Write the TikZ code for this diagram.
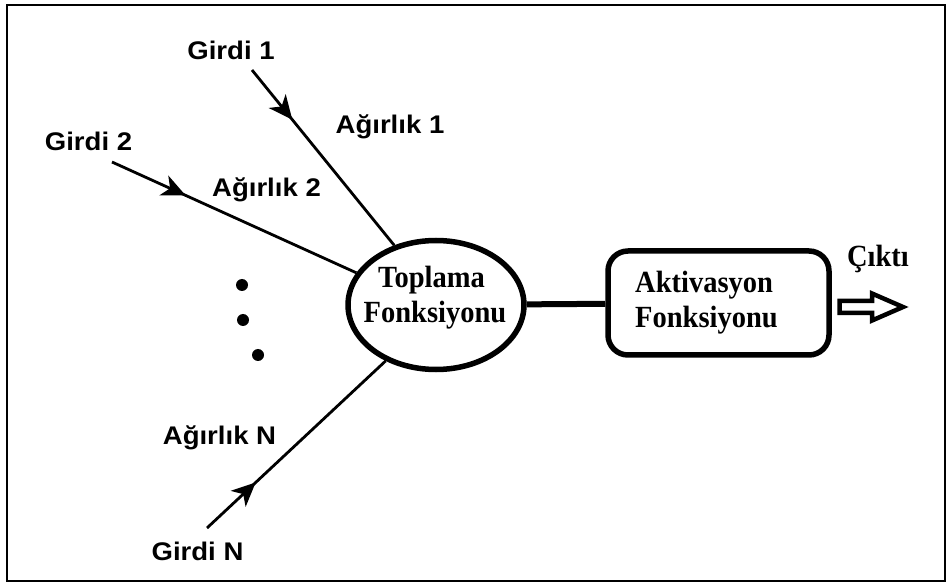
\documentclass[tikz,border=0pt]{standalone}
\usepackage{fontspec}
\usetikzlibrary{decorations.markings,shapes.geometric}
\newfontfamily\lblfont[FakeStretch=1.08]{Liberation Sans}
\newfontfamily\serfont{Liberation Serif}

\begin{document}
\begin{tikzpicture}[x=1pt,y=-1pt,
  lbl/.style={font=\lblfont\bfseries\fontsize{25.5}{30}\selectfont, inner sep=0pt, anchor=base},
  ser/.style={font=\serfont\bfseries\fontsize{28.5}{34}\selectfont, inner sep=0pt, anchor=base},
  wire/.style={line width=2.8pt},
  inarrow/.style={postaction={decorate},
    decoration={markings, mark=at position #1 with
      {\fill (3,0) -- (-21,-11) -- (-14,0) -- (-21,11) -- cycle;}}},
  dotmark/.style={fill=black}]

\useasboundingbox (0,0) rectangle (951,585);
\draw[line width=1.6pt] (7,5) rectangle (945,581);

% summation unit and activation box
\node[ellipse, draw, line width=5.5pt, minimum width=176pt, minimum height=129pt, inner sep=0pt] (sum) at (436,305) {};
\node[draw, line width=5.5pt, rounded corners=20pt, minimum width=221pt, minimum height=104pt, inner sep=0pt] (act) at (718.5,303) {};
\draw[line width=6pt] (sum) -- (act);

\node[ser] (sumA) at (431.5,288) {\scalebox{1}[1.08]{Toplama}};
\node[ser] (sumB) at (435,323) {\scalebox{1}[1.08]{Fonksiyonu}};
\node[ser, anchor=base west] (actA) at (635,293) {\scalebox{1}[1.08]{Aktivasyon}};
\node[ser, anchor=base west] (actB) at (635,328) {\scalebox{1}[1.08]{Fonksiyonu}};
\node[ser] (outlbl) at (878,267) {\scalebox{1}[1.08]{Çıktı}};

% input labels and weights
\node[lbl] (in1) at (231,60) {Girdi 1};
\node[lbl] (w1) at (390,134) {Ağırlık 1};
\node[lbl] (in2) at (88.5,151) {Girdi 2};
\node[lbl] (w2) at (266.5,197) {Ağırlık 2};
\node[lbl] (wN) at (219.5,444) {Ağırlık N};
\node[lbl] (inN) at (197.5,560) {Girdi N};

% input connectors
\coordinate (s1) at (252,70);
\coordinate (s2) at (112,162);
\coordinate (sN) at (207,528);
\draw[wire, inarrow=0.27] (s1) -- (sum.125);
\draw[wire, inarrow=0.29] (s2) -- (sum.158);
\draw[wire, inarrow=0.26] (sN) -- (sum.228);

% ellipsis dots
\fill[dotmark] (242,285) circle (6pt);
\fill[dotmark] (243,320) circle (6pt);
\fill[dotmark] (258,355) circle (6pt);

% hollow output arrow
\coordinate (o) at (839.5,307);
\draw[line width=4.5pt, line join=miter] (o) ++(0,-6) -- ++(32.5,0) -- ++(0,-7.5) -- ++(31,13.5)
  -- ++(-31,13.5) -- ++(0,-7.5) -- ++(-32.5,0) -- cycle;
\end{tikzpicture}
\end{document}
